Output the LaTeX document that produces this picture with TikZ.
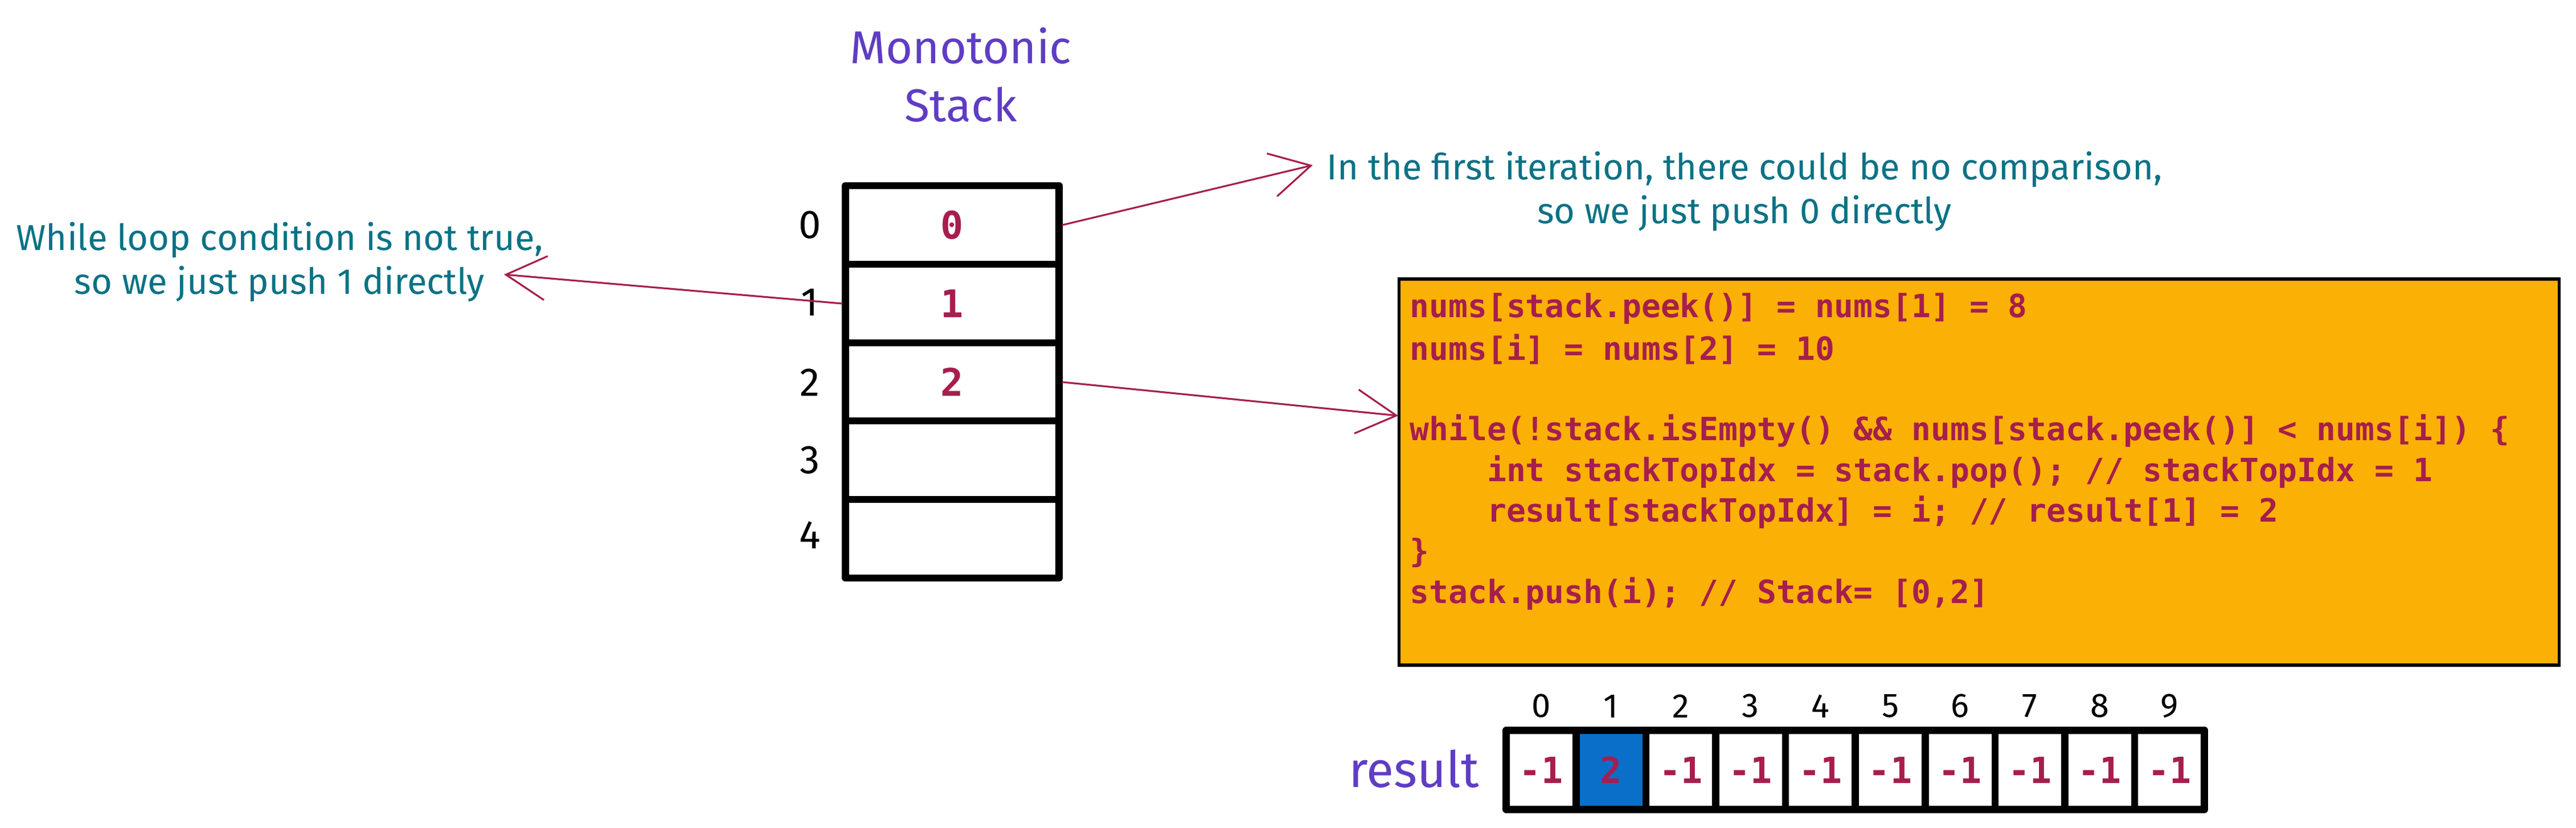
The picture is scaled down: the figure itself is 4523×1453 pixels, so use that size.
\documentclass[tikz,border=0pt]{standalone}
\usepackage{fontspec}
\setmainfont{Fira Sans}
\setmonofont{DejaVu Sans Mono}
\usetikzlibrary{arrows.meta}
\definecolor{titlepurple}{HTML}{5F3DC4}
\definecolor{noteteal}{HTML}{0B7285}
\definecolor{codered}{HTML}{A61E4D}
\definecolor{boxorange}{HTML}{FAB005}
\definecolor{cellblue}{HTML}{0A6FC8}
\begin{document}
\begin{tikzpicture}[x=0.01cm,y=-0.01cm,
  stackcell/.style={draw=black, fill=white, line width=3.6pt, line join=round,
    minimum width=3.75cm, minimum height=1.378cm, inner sep=0pt,
    font=\ttfamily\bfseries\fontsize{19}{21}\selectfont, text=codered},
  rescell/.style={draw=black, line width=3.6pt, line join=round,
    minimum width=1.226cm, minimum height=1.39cm, inner sep=0pt,
    font=\ttfamily\bfseries\fontsize{18}{20}\selectfont, text=codered},
  idxlabel/.style={font=\fontsize{20}{23}\selectfont, text=black, inner sep=0pt},
  residx/.style={font=\fontsize{17}{20}\selectfont, text=black, inner sep=0pt},
  note/.style={font=\fontsize{18}{22}\selectfont, text=noteteal, align=center, inner sep=0pt},
  heading/.style={font=\fontsize{23}{29}\selectfont, text=titlepurple, align=center, inner sep=0pt},
  codeline/.style={font=\ttfamily\bfseries\fontsize{16}{18}\selectfont, text=codered, anchor=west, inner sep=0pt},
  codebox/.style={draw=black, fill=boxorange, line width=1.6pt,
    minimum width=20.36cm, minimum height=6.78cm, inner sep=0pt},
  conn/.style={draw=codered, line width=0.9pt, line cap=round,
    -{Straight Barb[length=20pt,width=22pt,line width=0.9pt]}}
]
\useasboundingbox (0,0) rectangle (4523,1453);
\fill[white] (0,0) rectangle (4523,1453);

% title
\node[heading] (title) at (1687,131) {Monotonic\\Stack};

% stack
\node[stackcell] (s0) at (1672,395) {0};
\node[stackcell] (s1) at (1672,533) {1};
\node[stackcell] (s2) at (1672,671) {2};
\node[stackcell] (s3) at (1672,808) {};
\node[stackcell] (s4) at (1672,946) {};
\node[idxlabel] (i0) at (1422,395) {0};
\node[idxlabel] (i1) at (1422,531) {1};
\node[idxlabel] (i2) at (1422,672) {2};
\node[idxlabel] (i3) at (1422,808) {3};
\node[idxlabel] (i4) at (1422,940) {4};

% notes
\node[note] (lnote) at (491,460) {While loop condition is not true,\\so we just push 1 directly};
\node[note] (rnote) at (3063,336) {In the first iteration, there could be no comparison,\\so we just push 0 directly};
\coordinate (ltip) at (885,482);
\coordinate (rtip) at (2305,290);

% code box
\node[codebox] (box) at (3475,829) {};
\coordinate (btip) at (2455,730);
\node[codeline] (c1) at (2475,542) {nums[stack.peek()] = nums[1] = 8};
\node[codeline] (c2) at (2475,613) {nums[i] = nums[2] = 10};
\node[codeline] (c4) at (2475,756) {while(!stack.isEmpty() \&\& nums[stack.peek()] < nums[i]) \{};
\node[codeline] (c5) at (2475,828) {\phantom{xxxx}int stackTopIdx = stack.pop(); // stackTopIdx = 1};
\node[codeline] (c6) at (2475,899) {\phantom{xxxx}result[stackTopIdx] = i; // result[1] = 2};
\node[codeline] (c7) at (2475,971) {\}};
\node[codeline] (c8) at (2475,1042) {stack.push(i); // Stack= [0,2]};

% connectors
\draw[conn] (s0.east) -- (rtip);
\draw[conn] (s1.west) -- (ltip);
\draw[conn] (s2.east) -- (btip);

% result array
\node[font=\fontsize{25}{28}\selectfont, text=titlepurple, anchor=east, inner sep=0pt] (reslabel) at (2598,1350) {result};
\foreach \i/\v/\f in {0/-1/white,1/2/cellblue,2/-1/white,3/-1/white,4/-1/white,5/-1/white,6/-1/white,7/-1/white,8/-1/white,9/-1/white} {
  \node[rescell, fill=\f] (r\i) at ({2706+122.6*\i},1352) {\v};
  \node[residx] (ri\i) at ({2706+122.6*\i},1240) {\i};
}
\end{tikzpicture}
\end{document}
